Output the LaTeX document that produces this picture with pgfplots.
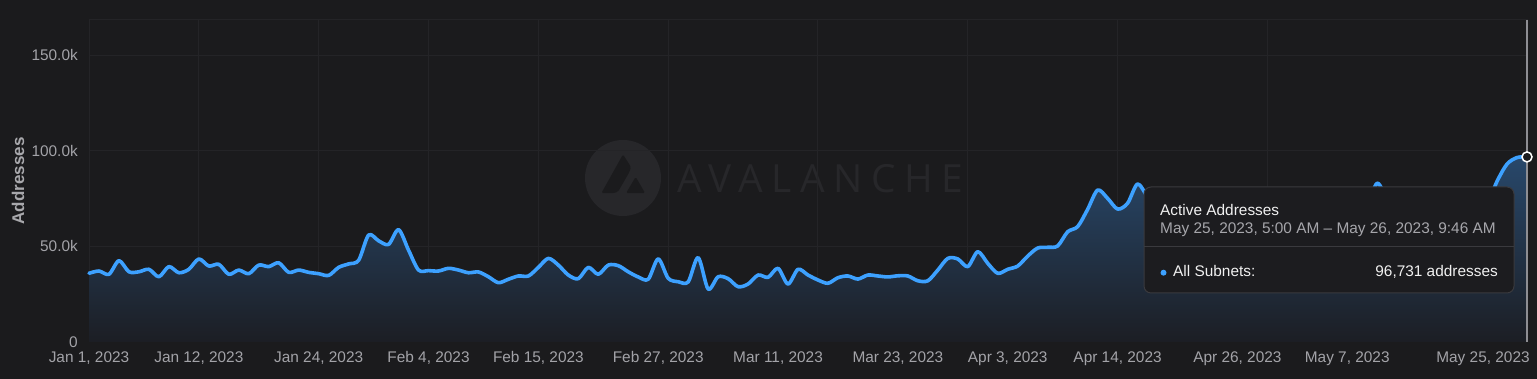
\documentclass[border=0pt]{standalone}
\usepackage{fontspec}
\setmainfont{Liberation Sans}
\newfontfamily\wmfont[LetterSpace=22]{Open Sans}
\usepackage{pgfplots}
\usepackage{pgfplotstable}
\pgfplotsset{compat=1.18}
\definecolor{bgc}{HTML}{1B1B1D}
\definecolor{gridc}{HTML}{242427}
\definecolor{tickc}{HTML}{A3A3A8}
\definecolor{labc}{HTML}{A8A8AC}
\definecolor{linec}{HTML}{3DA1FF}
\definecolor{filltop}{HTML}{28486B}
\definecolor{fillbot}{HTML}{1C1E24}
\definecolor{wmc}{HTML}{27272A}
\definecolor{ttbg}{HTML}{1C1C1F}
\definecolor{ttborder}{HTML}{3A3A3E}
\definecolor{ttsub}{HTML}{A6A6AB}
\definecolor{cursorc}{HTML}{8E8E93}

\pgfplotstableread{
d v
0 35900
1 37100
2 35400
3 42500
4 36700
5 36700
6 38000
7 34100
8 39400
9 36200
10 38000
11 43400
12 39700
13 40600
14 35400
15 37600
16 35700
17 40200
18 39400
19 41400
20 36400
21 37600
22 36400
23 35700
24 34800
25 39000
26 40800
27 42700
28 55900
29 52900
30 51000
31 58700
32 48000
33 37600
34 37300
35 37100
36 38500
37 37600
38 36200
39 36600
40 34100
41 31000
42 32800
43 34500
44 34500
45 39000
46 43700
47 40200
48 35000
49 33100
50 39000
51 35400
52 40200
53 39900
54 36700
55 34000
56 32800
57 43400
58 33300
59 31500
60 31400
61 44100
62 27700
63 34100
64 33100
65 28900
66 30300
67 35000
68 33800
69 38500
70 30300
71 38000
72 35000
73 32400
74 30700
75 33600
76 34500
77 32900
78 35000
79 34500
80 34000
81 34600
82 34500
83 32000
84 32000
85 37600
86 43700
87 43400
88 39400
89 47200
90 41100
91 35900
92 38000
93 39700
94 44900
95 49100
96 49500
97 50200
98 57600
99 60300
100 69300
101 79400
102 75100
103 69500
104 72500
105 82600
106 76000
107 72000
108 74000
109 77000
110 73000
111 70000
112 72000
113 75000
114 71000
115 68000
116 70000
117 73000
118 76000
119 72000
120 69000
121 71000
122 74000
123 72000
124 70000
125 73000
126 76000
127 74000
128 72000
129 83000
130 75000
131 73000
132 71000
133 74000
134 76000
135 73000
136 70000
137 72000
138 71000
139 70000
140 72000
141 84000
142 93000
143 96400
144 96731
}\datatab

\begin{document}
\begin{tikzpicture}
\fill[bgc] (0,0) rectangle (1537pt,379pt);
% watermark
\begin{scope}[shift={(623pt,201pt)}, x=38pt, y=38pt]
  \fill[wmc] (0,0) circle (1);
  \fill[bgc, rounded corners=1.5pt] (-0.57,-0.40) -- (0,0.62) -- (0.21,0.29) -- (0.17,0.16) -- (-0.13,-0.36) -- (-0.25,-0.40) -- cycle;
  \fill[bgc, rounded corners=1.5pt] (0.08,-0.40) -- (0.333,0.03) -- (0.583,-0.40) -- cycle;
\end{scope}
\node[anchor=base west, inner sep=0pt, text=wmc, font=\wmfont\fontsize{38.8}{40}\selectfont] at (677pt,186.3pt) {AVALANCHE};

\begin{axis}[
  at={(89pt,37pt)}, anchor=south west,
  scale only axis, width=1438pt, height=322pt,
  xmin=0, xmax=144, ymin=0, ymax=168300,
  clip=false,
  axis line style={draw=gridc, line width=1pt},
  xtick={0,11,23,34,45,57,69,81,92,103,115,126},
  xticklabels={{Jan 1, 2023},{Jan 12, 2023},{Jan 24, 2023},{Feb 4, 2023},{Feb 15, 2023},{Feb 27, 2023},{Mar 11, 2023},{Mar 23, 2023},{Apr 3, 2023},{Apr 14, 2023},{Apr 26, 2023},{May 7, 2023}},
  extra x ticks={144},
  extra x tick labels={May 25{,} 2023},
  extra x tick style={grid=none, xticklabel style={xshift=-44pt}},
  minor xtick={11,23,34,45,58,73,88,103,118},
  xminorgrids=true, xmajorgrids=false,
  minor grid style={draw=gridc, line width=1pt},
  ytick={0,50000,100000,150000},
  yticklabels={0,50.0k,100.0k,150.0k},
  scaled y ticks=false,
  ymajorgrids=true,
  major grid style={draw=gridc, line width=1pt},
  major tick length=0pt, minor tick length=0pt,
  tick label style={font=\fontsize{15.4}{18}\selectfont, text=tickc},
  xticklabel style={anchor=base, inner sep=0pt, yshift=-21pt},
  yticklabel style={anchor=east, inner sep=0pt, xshift=-11pt},
  ylabel={Addresses},
  ylabel style={font=\fontsize{17}{18}\selectfont\bfseries, text=labc},
  every axis y label/.append style={at={(axis description cs:-0.04937,0.5)}, anchor=center},
]
\addplot[draw=none, top color=filltop, bottom color=fillbot, smooth] table[x=d,y=v] {\datatab} \closedcycle;
\addplot[linec, line width=3.6pt, smooth, line join=round, line cap=round] table[x=d,y=v] {\datatab};
\draw[cursorc, line width=2pt] (axis cs:144,0) -- (axis cs:144,168300);
\addplot[only marks, mark=*, mark size=5pt, mark options={fill=bgc, draw=white, line width=1.5pt}] coordinates {(144,96731)};
\end{axis}

% tooltip
\draw[fill=ttbg, draw=ttborder, line width=1pt, rounded corners=7pt] (1144pt,86pt) rectangle (1514pt,192pt);
\draw[ttborder, line width=1pt] (1144pt,132pt) -- (1514pt,132pt);
\node[anchor=base west, inner sep=0pt, text=white!94!black, font=\fontsize{15.4}{18}\selectfont] at (1160pt,163pt) {Active Addresses};
\node[anchor=base west, inner sep=0pt, text=ttsub, font=\fontsize{15.4}{18}\selectfont] at (1160pt,145pt) {May 25, 2023, 5:00 AM – May 26, 2023, 9:46 AM};
\fill[linec] (1163.5pt,106.3pt) circle (3pt);
\node[anchor=base west, inner sep=0pt, text=white!94!black, font=\fontsize{15.4}{18}\selectfont] at (1173pt,102pt) {All Subnets:};
\node[anchor=base east, inner sep=0pt, text=white!94!black, font=\fontsize{15.4}{18}\selectfont] at (1498pt,102pt) {96,731 addresses};

\pgfresetboundingbox
\useasboundingbox (0,0) rectangle (1537pt,379pt);
\end{tikzpicture}
\end{document}
